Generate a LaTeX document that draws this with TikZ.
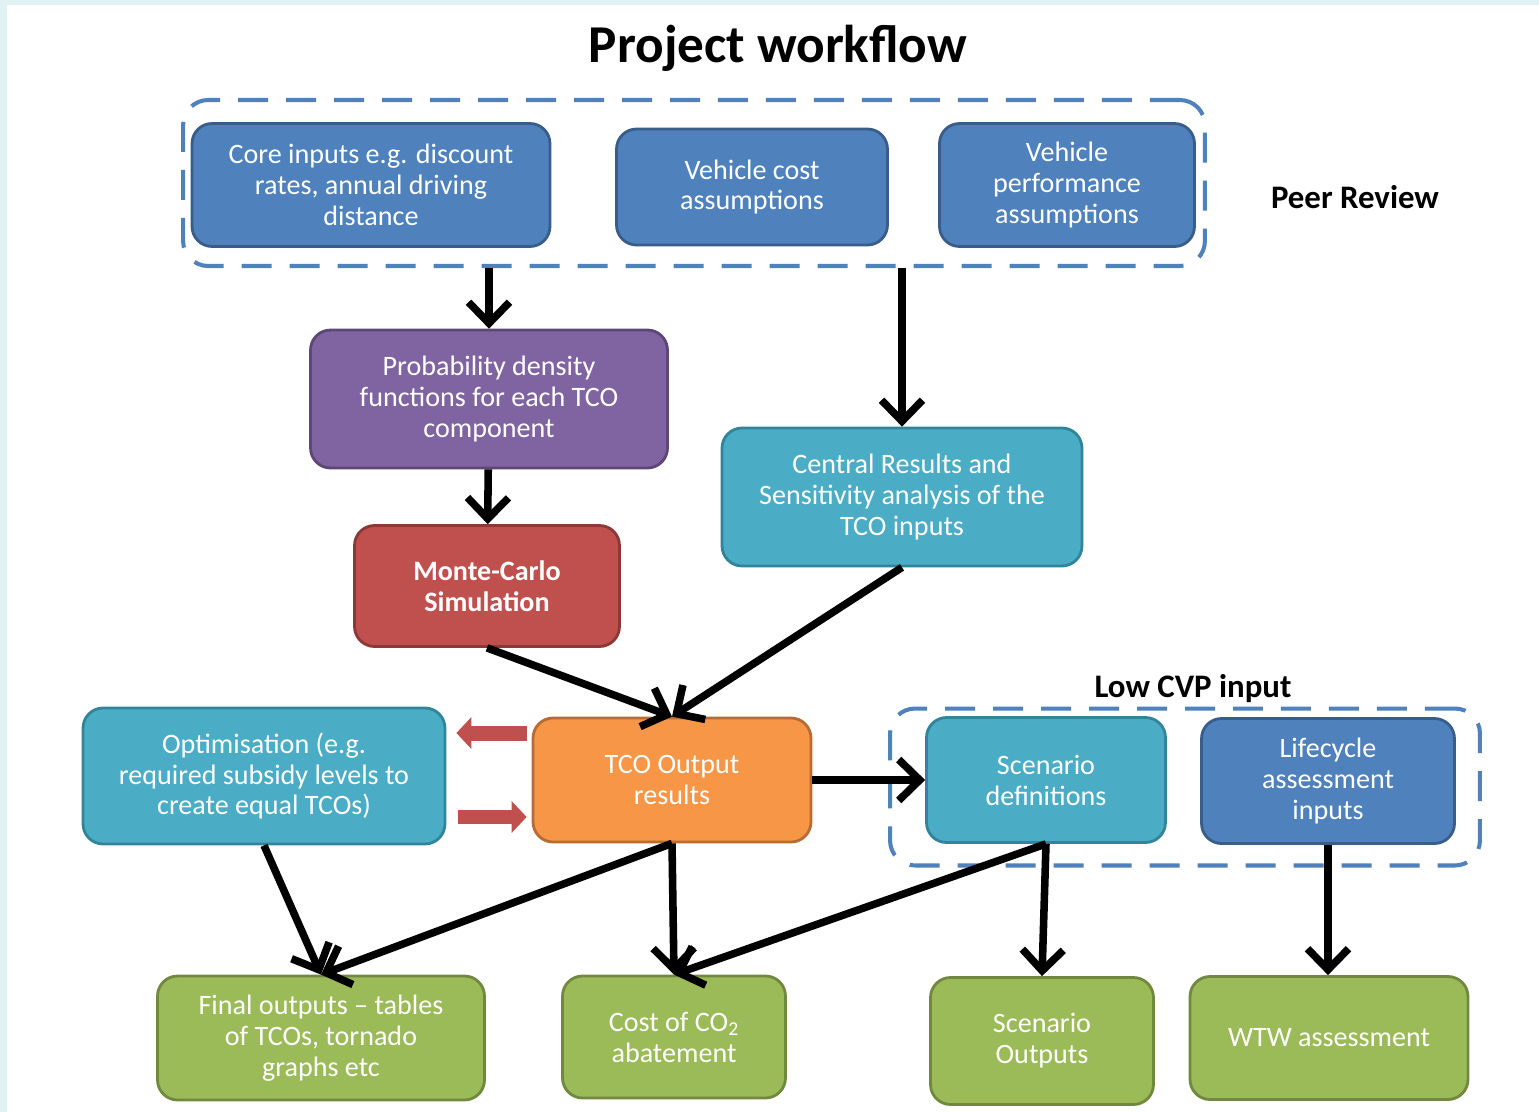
\documentclass[tikz,border=0pt]{standalone}
\usepackage{fontspec}
\setmainfont{Carlito}
\usepackage{xcolor}
\usepackage{tikz}
\usetikzlibrary{shapes.geometric, arrows.meta, positioning}
\definecolor{bluefill}{RGB}{79,129,189}
\definecolor{blueline}{RGB}{56,93,138}
\definecolor{purplefill}{RGB}{128,100,162}
\definecolor{purpleline}{RGB}{92,71,118}
\definecolor{redfill}{RGB}{192,80,77}
\definecolor{redline}{RGB}{140,56,54}
\definecolor{tealfill}{RGB}{75,172,198}
\definecolor{tealline}{RGB}{49,133,155}
\definecolor{orangefill}{RGB}{247,150,70}
\definecolor{orangeline}{RGB}{182,108,50}
\definecolor{greenfill}{RGB}{155,187,89}
\definecolor{greenline}{RGB}{113,137,62}
\definecolor{dashblue}{RGB}{79,129,189}
\definecolor{bgcyan}{RGB}{226,242,243}
\tikzset{
    box/.style={rectangle, rounded corners=0.4cm, draw, line width=1.6pt, text=white, align=center, font=\fontsize{16}{17.6}\selectfont},
    inputbox/.style={box, fill=bluefill, draw=blueline},
    analysis/.style={box, fill=tealfill, draw=tealline},
    outputbox/.style={box, fill=greenfill, draw=greenline},
    group/.style={rectangle, rounded corners=0.5cm, draw=dashblue, line width=2.3pt, dash pattern=on 0.6cm off 0.36cm},
    label/.style={font=\fontsize{18.7}{22}\selectfont\bfseries},
    flow/.style={-{Straight Barb[length=0.42cm, width=0.82cm]}, line width=4.3pt},
    feedback/.style={-{Triangle[length=0.3cm, width=0.62cm]}, line width=0.3cm, color=redfill}
}
\begin{document}
\begin{tikzpicture}[x=0.02cm, y=-0.02cm]
    \useasboundingbox (0,0) rectangle (1539,1112);
    \fill[bgcyan] (0,0) rectangle (1539,1112);
    \fill[white] (7,5) rectangle (1539,1112);

    \node[font=\fontsize{30.3}{35}\selectfont\bfseries] (title) at (778,48) {Project workflow};

    % Peer review inputs
    \node[group, minimum width=20.44cm, minimum height=3.32cm] (peer) at (694,183) {};
    \node[inputbox, minimum width=7.16cm, minimum height=2.46cm] (core) at (371,185) {Core inputs e.g. discount\\ rates, annual driving\\ distance};
    \node[inputbox, minimum width=5.42cm, minimum height=2.32cm] (cost) at (752,187) {Vehicle cost\\ assumptions};
    \node[inputbox, minimum width=5.1cm, minimum height=2.46cm] (perf) at (1067,185) {Vehicle\\ performance\\ assumptions};
    \node[label] (peerlabel) at (1355,197) {Peer Review};

    % Modelling
    \node[box, fill=purplefill, draw=purpleline, minimum width=7.14cm, minimum height=2.76cm] (pdf) at (489,399) {Probability density\\ functions for each TCO\\ component};
    \node[box, fill=redfill, draw=redline, minimum width=5.3cm, minimum height=2.42cm, font=\fontsize{16}{17.6}\selectfont\bfseries] (monte) at (487,586) {Monte-Carlo\\ Simulation};
    \node[analysis, minimum width=7.2cm, minimum height=2.76cm] (central) at (902,497) {Central Results and\\ Sensitivity analysis of the\\ TCO inputs};
    \node[box, fill=orangefill, draw=orangeline, minimum width=5.56cm, minimum height=2.48cm] (tco) at (672,780) {TCO Output\\ results};
    \node[analysis, minimum width=7.24cm, minimum height=2.72cm] (optim) at (264,776) {Optimisation (e.g.\\ required subsidy levels to\\ create equal TCOs)};

    % Low CVP inputs
    \node[group, minimum width=11.8cm, minimum height=3.14cm] (lowcvp) at (1185,787) {};
    \node[label] (cvplabel) at (1193,689) {Low CVP input};
    \node[analysis, minimum width=4.78cm, minimum height=2.5cm] (scen) at (1046,780) {Scenario\\ definitions};
    \node[inputbox, minimum width=5.06cm, minimum height=2.5cm] (life) at (1328,781) {Lifecycle\\ assessment\\ inputs};

    % Outputs
    \node[outputbox, minimum width=6.54cm, minimum height=2.48cm] (final) at (321,1038) {Final outputs -- tables\\ of TCOs, tornado\\ graphs etc};
    \node[outputbox, minimum width=4.46cm, minimum height=2.44cm] (co2) at (674,1037) {Cost of CO\textsubscript{2}\\ abatement};
    \node[outputbox, minimum width=4.46cm, minimum height=2.54cm] (scenout) at (1042,1041) {Scenario\\ Outputs};
    \node[outputbox, minimum width=5.56cm, minimum height=2.46cm] (wtw) at (1329,1038) {WTW assessment};

    % Flows
    \draw[flow] (peer.south -| pdf.north) -- (pdf.north);
    \draw[flow] (peer.south -| central.north) -- (central.north);
    \draw[flow] (pdf) -- (monte);
    \draw[flow] (monte.south) -- (tco.north);
    \draw[flow] (central.south) -- (tco.north);
    \draw[flow] (tco) -- (scen);
    \draw[flow] (optim.south) -- (final.north);
    \draw[flow] (tco.south) -- (final.north);
    \draw[flow] (tco.south) -- (co2.north);
    \draw[flow] (scen.south) -- (co2.north);
    \draw[flow] (scen.south) -- (scenout.north);
    \draw[flow] (life.south) -- (life.south |- wtw.north);

    % Optimisation loop
    \draw[feedback, shorten <=0.1cm, shorten >=0.2cm] ([yshift=0.94cm]tco.west) -- ([yshift=0.94cm]tco.west -| optim.east);
    \draw[feedback, shorten <=0.24cm, shorten >=0.1cm] ([yshift=-0.82cm]optim.east) -- ([yshift=-0.82cm]optim.east -| tco.west);
\end{tikzpicture}
\end{document}
